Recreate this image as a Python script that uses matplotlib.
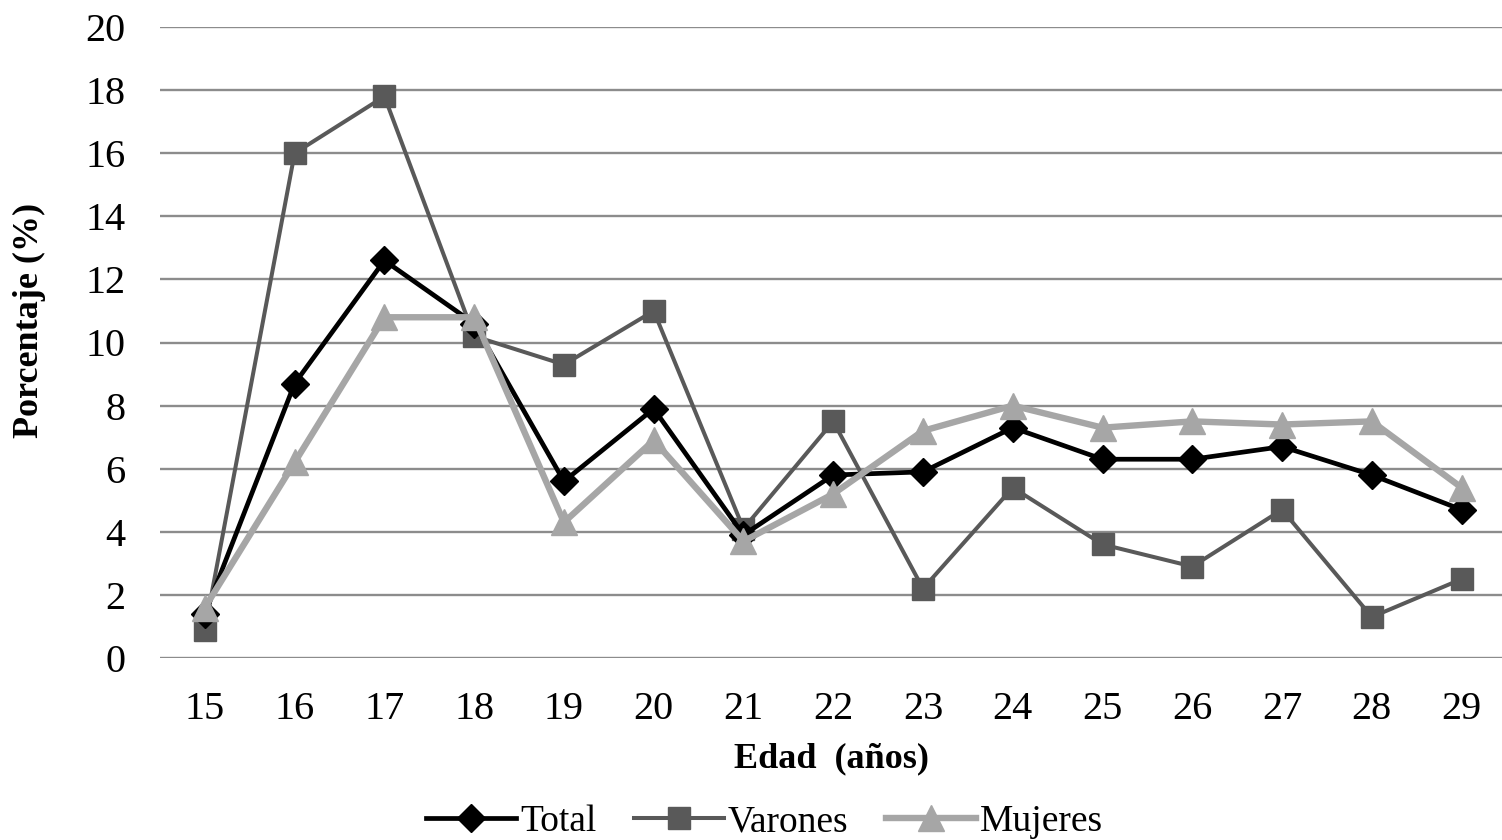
import matplotlib
matplotlib.use("Agg")
import matplotlib.pyplot as plt
from matplotlib.lines import Line2D

edades = [15, 16, 17, 18, 19, 20, 21, 22, 23, 24, 25, 26, 27, 28, 29]
total = [1.4, 8.7, 12.6, 10.6, 5.6, 7.9, 3.9, 5.8, 5.9, 7.3, 6.3, 6.3, 6.7, 5.8, 4.7]
varones = [0.9, 16.0, 17.8, 10.2, 9.3, 11.0, 4.1, 7.5, 2.2, 5.4, 3.6, 2.9, 4.7, 1.3, 2.5]
mujeres = [1.6, 6.2, 10.8, 10.8, 4.3, 6.9, 3.7, 5.2, 7.2, 8.0, 7.3, 7.5, 7.4, 7.5, 5.4]
yticks = list(range(0, 21, 2))

plt.rcParams['font.family'] = ['Liberation Serif', 'DejaVu Serif']

fig = plt.figure(figsize=(15.02, 8.4), dpi=100)
ax = fig.add_axes([160/1502, 1-658/840, 1-160/1502, (658-27)/840])

ax.set_ylim(0, 20)
ax.set_xlim(14.5, 29.45)
ax.set_yticks(yticks)
ax.set_xticks(edades)
ax.grid(axis='y', color='#8c8c8c', linewidth=1.7, zorder=0)
ax.set_axisbelow(True)
for s in ax.spines.values():
    s.set_visible(False)
ax.tick_params(length=0, labelsize=29)
ax.tick_params(axis='x', pad=24)
ax.tick_params(axis='y', pad=25)

c_tot, c_var, c_muj = '#000000', '#595959', '#a6a6a6'
ax.plot(edades, varones, color=c_var, lw=2.9, marker='s', ms=16, mec=c_var, mfc=c_var, zorder=3, clip_on=False)
ax.plot(edades, total, color=c_tot, lw=3.4, marker='D', ms=14, mec=c_tot, mfc=c_tot, zorder=4, clip_on=False)
ax.plot(edades, mujeres, color=c_muj, lw=4.6, marker='^', ms=19, mec=c_muj, mfc=c_muj, zorder=5, clip_on=False)

ax.set_ylabel('Porcentaje (%)', fontsize=26, fontweight='bold')
ax.yaxis.set_label_coords(-(160-46)/1342, (658-320)/631)
ax.set_xlabel('Edad  (años)', fontsize=26, fontweight='bold')
ax.xaxis.set_label_coords(0.5, -(742-658)/631)

handles = [
    Line2D([], [], color=c_tot, lw=3.4, marker='D', ms=14, label='Total'),
    Line2D([], [], color=c_var, lw=2.9, marker='s', ms=16, label='Varones'),
    Line2D([], [], color=c_muj, lw=4.6, marker='^', ms=19, label='Mujeres'),
]
fig.legend(handles=handles, loc='center', bbox_to_anchor=(0.509, 1-822/840), ncol=3,
           frameon=False, fontsize=27, handlelength=2.4, columnspacing=1.0, handletextpad=0.1)

fig.savefig('out.png', dpi=100)
